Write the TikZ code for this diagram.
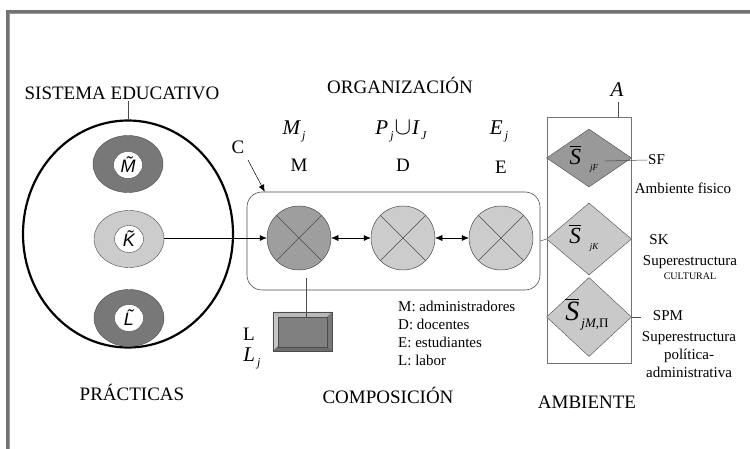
\documentclass[tikz,border=0pt]{standalone}
\usepackage{fontspec}
\setmainfont{Liberation Serif}
\newfontfamily\lsans{Liberation Sans}
\usetikzlibrary{shapes.geometric,arrows.meta,calc}
\definecolor{ringdark}{gray}{0.47}
\definecolor{ringlight}{gray}{0.80}
\definecolor{cdark}{gray}{0.62}
\definecolor{clight}{gray}{0.80}
\definecolor{dmdark}{gray}{0.60}
\definecolor{dmlight}{gray}{0.79}
\definecolor{edge}{gray}{0.30}
\definecolor{framec}{gray}{0.45}
\newcommand\fbig{\fontsize{19}{22}\selectfont}
\newcommand\fmid{\fontsize{15}{18}\selectfont}
\newcommand\fsmall{\fontsize{10}{11}\selectfont}
\newcommand\subj[1]{\hspace{2pt}\raisebox{-5pt}{\fontsize{12}{13}\selectfont\textit{#1}}}
\newcommand\sbar[1]{\begingroup\setbox0\hbox{\textit{S}}\rlap{\raisebox{\dimexpr\ht0+2pt\relax}{\rule{\wd0}{1pt}}}\box0\endgroup}
\begin{document}
\begin{tikzpicture}[x=1pt,y=-1pt,
  ringbox/.style={ellipse,draw=edge,line width=0.4pt,minimum width=70pt,minimum height=57pt,inner sep=0pt},
  hole/.style={ellipse,draw=edge,line width=0.4pt,fill=white,minimum width=29pt,minimum height=27pt,inner sep=0pt,font=\lsans\itshape\fontsize{18}{20}\selectfont},
  xcirc/.style={circle,draw=edge,line width=0.5pt,minimum size=64pt,inner sep=0pt,
    path picture={\draw[edge,line width=0.5pt] (path picture bounding box.north west)--(path picture bounding box.south east)
      (path picture bounding box.north east)--(path picture bounding box.south west);}},
  dmd/.style={diamond,draw=edge,line width=0.4pt,minimum width=85pt,inner sep=0pt},
  arr/.style={-{Latex[length=7pt,width=6pt]},line width=0.5pt},
  darr/.style={{Latex[length=7pt,width=6pt]}-{Latex[length=7pt,width=6pt]},line width=0.5pt},
  big/.style={font=\fbig,inner sep=1pt},
  mathl/.style={font=\fontsize{21}{24}\selectfont\itshape,inner sep=1pt},
  mid/.style={font=\fmid,inner sep=1pt}]
\useasboundingbox (0,0) rectangle (750,449);
% frame
\draw[framec,line width=3pt] (7.5,449) -- (7.5,12) -- (750,12);
\draw[gray!80,line width=0.6pt] (9,449) -- (9,13.5) -- (750,13.5);

% left: system
\node[ellipse,draw=black,line width=2.2pt,minimum width=210pt,minimum height=227pt,inner sep=0pt] (sys) at (128,234) {};
\node[big] (sislab) at (122,93) {SISTEMA EDUCATIVO};
\draw[edge,line width=0.5pt] (sys.north) -- (sys.north |- sislab.south);
\node[ringbox,fill=ringdark] (mring) at (128,164) {};
\node[hole] (mh) at (128,165) {\~{M}};
\node[ringbox,fill=ringlight] (kring) at (129,239) {};
\node[hole] (kh) at (129,239) {\~{K}};
\node[ringbox,fill=ringdark] (lring) at (129,318) {};
\node[hole] (lh) at (129,318) {\~{L}};
\node[big] (prac) at (132,392) {PRÁCTICAS};

% composition
\node[draw=edge,line width=0.6pt,rounded corners=15pt,minimum width=293pt,minimum height=98pt,inner sep=0pt] (comp) at (393.5,241) {};
\node[xcirc,fill=cdark] (mc) at (299,238) {};
\node[xcirc,fill=clight] (dc) at (403,238) {};
\node[xcirc,fill=clight] (ec) at (501,238) {};
\draw[arr] (kring.east |- mc.west) -- (mc.west);
\draw[darr] (mc.east) -- (dc.west);
\draw[darr] (dc.east) -- (ec.west);

\node[big] (org) at (400,85) {ORGANIZACIÓN};
\node[mathl] (mj) at (294,131) {M\subj{j}};
\node[mathl] (pij) at (401,131) {P\subj{j}\hspace{1pt}{\fontsize{24}{26}\selectfont$\cup$}\hspace{1pt}I\subj{J}};
\node[mathl] (ej) at (499,131) {E\subj{j}};
\node[big] (mlab) at (299,165) {M};
\node[big] (dlab) at (403,165) {D};
\node[big] (elab) at (501,167) {E};

\node[big] (clab) at (238,147) {C};
\coordinate (chit) at ($(comp.north west)+(18,0)$);
\draw[arr] (248,160) -- (chit);

% labor box
\node[draw=edge,fill=gray!70!black,minimum width=59pt,minimum height=39pt,inner sep=0pt] (lab) at (302.5,331.5) {};
\fill[gray!55] (lab.north west) -- (lab.north east) -- ($(lab.north east)+(-5,5)$) -- ($(lab.north west)+(5,5)$) -- cycle;
\fill[gray!45] (lab.north west) -- ($(lab.north west)+(5,5)$) -- ($(lab.south west)+(5,-5)$) -- (lab.south west) -- cycle;
\fill[gray!85!black] (lab.south west) -- ($(lab.south west)+(5,-5)$) -- ($(lab.south east)+(-5,-5)$) -- (lab.south east) -- cycle;
\fill[gray!95!black] (lab.north east) -- ($(lab.north east)+(-5,5)$) -- ($(lab.south east)+(-5,-5)$) -- (lab.south east) -- cycle;
\node[draw=black!70,fill=gray,minimum width=49pt,minimum height=30pt,inner sep=0pt] (labin) at (302.5,332) {};
\draw[edge,line width=0.6pt] (lab.north west) rectangle (lab.south east);
\draw[edge,line width=0.6pt,shorten <=8pt] ([xshift=4pt]labin.north |- mc.south) -- ([xshift=4pt]labin.north);
\node[big,inner sep=0pt] (llab) at (249,334) {L};
\node[mathl,inner sep=0pt] (ljlab) at (252,358) {L\subj{j}};

\node[mid,align=left,anchor=west] (legend) at (397,333) {M: administradores\\[0pt]D: docentes\\[0pt]E: estudiantes\\[0pt]L: labor};
\node[big] (compo) at (388,395) {COMPOSICIÓN};

% environment
\node[draw=framec,line width=0.7pt,minimum width=84pt,minimum height=246pt,inner sep=0pt] (amb) at (589,240) {};
\node[mathl] (alab) at (617,90) {A};
\draw[edge,line width=0.5pt] (amb.north -| 618,0) -- ++(0,-15);
\node[dmd,fill=dmdark,minimum height=58pt] (sf) at (589,158) {};
\node[dmd,fill=dmlight,minimum height=72pt] (sk) at (589,239) {};
\node[dmd,fill=dmlight,minimum height=79pt] (sp) at (589,317) {};
\node[font=\fontsize{23}{26}\selectfont,inner sep=0pt] (sfl) at (584,159) {\sbar{}\hspace{9pt}\raisebox{-6pt}{\fontsize{9}{10}\selectfont\textit{jF}}};
\node[font=\fontsize{23}{26}\selectfont,inner sep=0pt] (skl) at (584,238) {\sbar{}\hspace{9pt}\raisebox{-6pt}{\fontsize{9}{10}\selectfont\textit{jK}}};
\node[font=\fontsize{28}{30}\selectfont,inner sep=0pt] (spl) at (587,315) {\sbar{}\hspace{2pt}\raisebox{-7pt}{\fontsize{13}{14}\selectfont\textit{jM},Π}};
\draw[edge,line width=0.5pt] (comp.east) -- (sk.west);

\node[mid,anchor=west] (sflab) at (647,160) {SF};
\draw[edge,line width=0.5pt] ($(sf.center)+(16,3)$) -- (sflab.west);
\node[mid] (amf) at (683,188) {Ambiente fisico};
\node[mid] (sklab) at (659,240) {SK};
\node[mid] (sup1) at (690,262) {Superestructura};
\node[font=\fsmall,inner sep=1pt] (cult) at (690,276) {CULTURAL};
\node[mid] (spmlab) at (668,316) {SPM};
\draw[edge,line width=0.5pt] (sp.east) -- ++(9,0);
\node[mid,align=center] (sup2) at (689,355) {Superestructura\\[0pt]política-\\[0pt]administrativa};
\node[big] (amblab) at (587,402) {AMBIENTE};
\end{tikzpicture}
\end{document}
